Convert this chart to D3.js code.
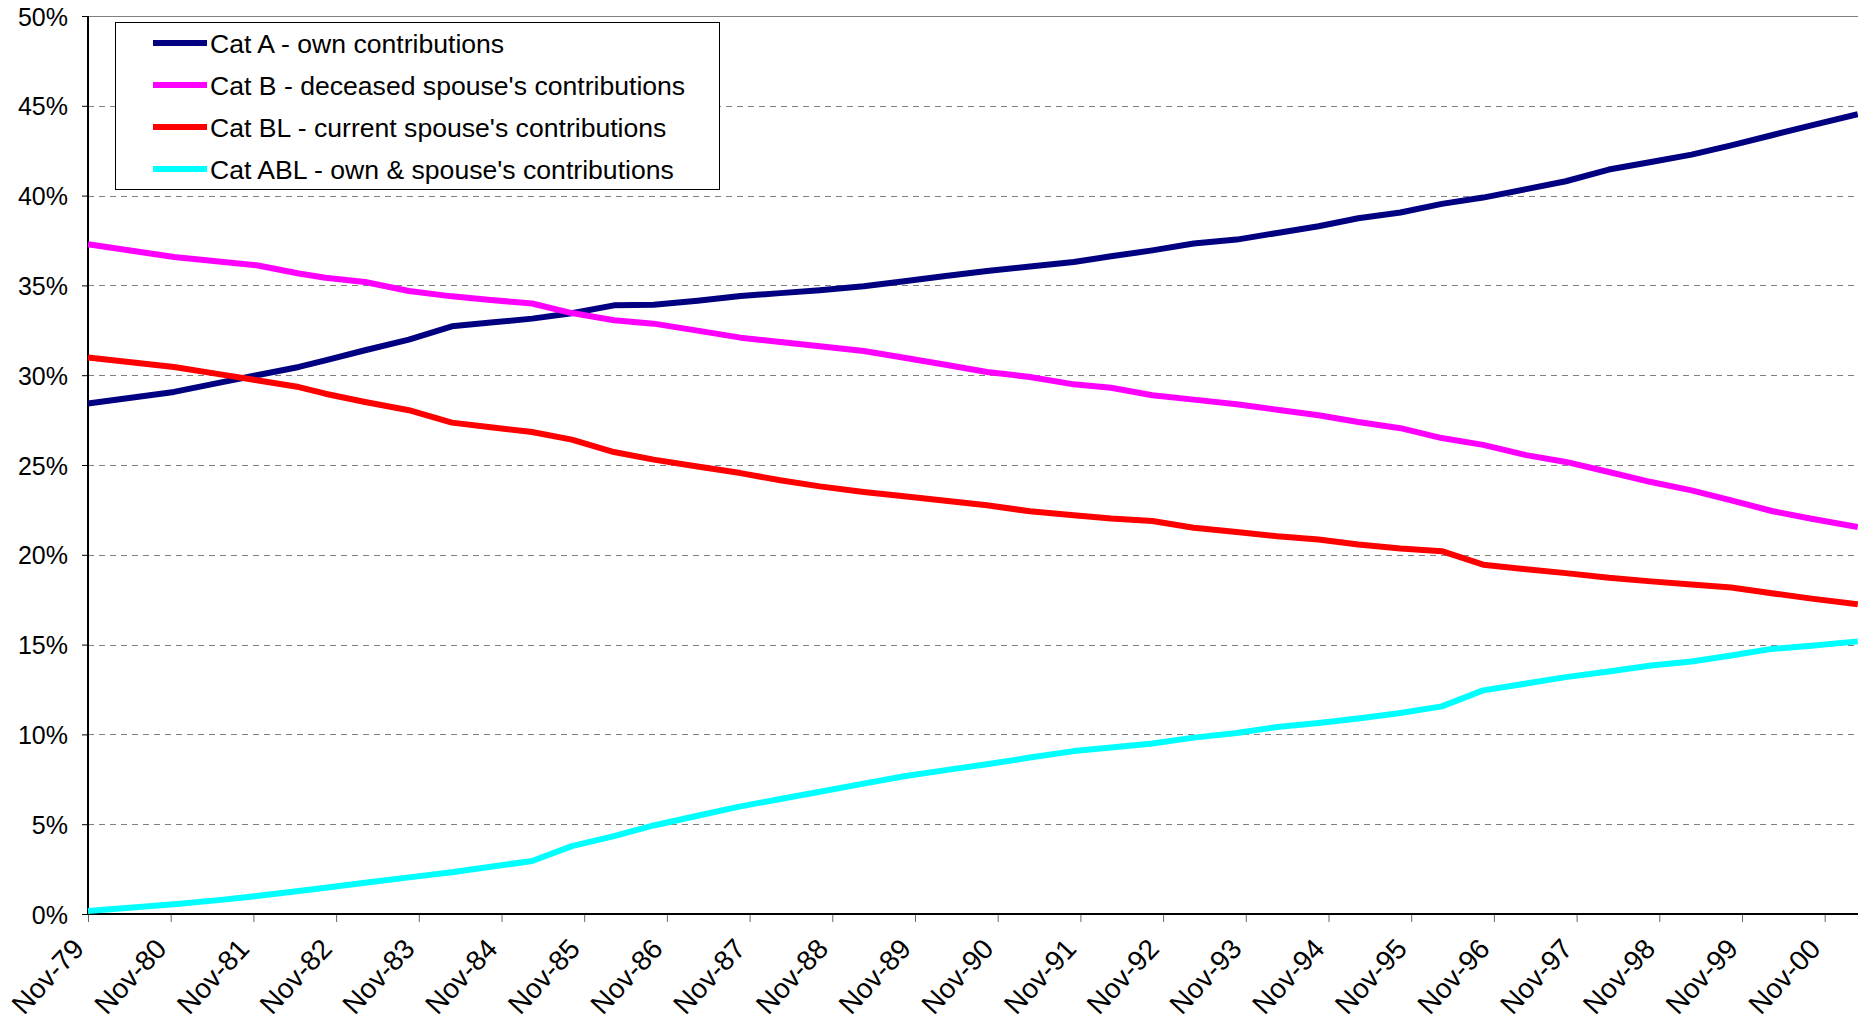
<!DOCTYPE html>
<html>
<head>
<meta charset="utf-8">
<script src="https://cdn.jsdelivr.net/npm/d3@7"></script>
<style>
    body { margin: 0; background: #fff; }
    svg { display: block; font-family: "Liberation Sans", Arial, sans-serif; }
</style>
</head>
<body>
<div id="chart"></div>
<script>

// x position of each observation, in years after Nov-79
const yearsSinceNov79 = [0, 1.04, 1.64, 2.04, 2.55, 2.87, 3.35, 3.88, 4.40, 4.87,
    5.37, 5.85, 6.36, 6.84, 7.37, 7.89, 8.37, 8.85, 9.38, 9.87,
    10.37, 10.87, 11.39, 11.92, 12.37, 12.87, 13.37, 13.89, 14.38, 14.88,
    15.36, 15.87, 16.37, 16.87, 17.39, 17.87, 18.39, 18.90, 19.39, 19.87,
    20.36, 20.84, 21.40];

// shares in percent
const catA = [28.42, 29.07, 29.63, 30.00, 30.46, 30.83, 31.39, 31.98, 32.72, 32.93,
    33.15, 33.45, 33.89, 33.92, 34.15, 34.41, 34.57, 34.73, 34.95, 35.23,
    35.52, 35.80, 36.05, 36.30, 36.62, 36.95, 37.33, 37.55, 37.92, 38.29,
    38.74, 39.06, 39.54, 39.89, 40.36, 40.80, 41.45, 41.87, 42.28, 42.80,
    43.36, 43.91, 44.53];

const catB = [37.29, 36.58, 36.30, 36.12, 35.66, 35.43, 35.19, 34.69, 34.39, 34.19,
    33.99, 33.46, 33.06, 32.87, 32.48, 32.09, 31.85, 31.61, 31.35, 30.97,
    30.58, 30.18, 29.90, 29.49, 29.30, 28.88, 28.64, 28.38, 28.08, 27.77,
    27.39, 27.05, 26.50, 26.12, 25.55, 25.17, 24.61, 24.05, 23.59, 23.03,
    22.44, 22.01, 21.55];

const catBL = [30.98, 30.46, 30.02, 29.72, 29.34, 28.97, 28.51, 28.05, 27.36, 27.10,
    26.84, 26.41, 25.72, 25.30, 24.92, 24.55, 24.15, 23.81, 23.50, 23.26,
    23.01, 22.76, 22.42, 22.20, 22.02, 21.88, 21.51, 21.27, 21.03, 20.85,
    20.57, 20.35, 20.20, 19.45, 19.20, 18.98, 18.72, 18.52, 18.35, 18.18,
    17.86, 17.56, 17.24];

const catABL = [0.17, 0.54, 0.80, 1.00, 1.28, 1.46, 1.74, 2.04, 2.32, 2.63,
    2.95, 3.78, 4.34, 4.93, 5.47, 5.99, 6.40, 6.81, 7.26, 7.67,
    8.01, 8.34, 8.71, 9.07, 9.27, 9.49, 9.82, 10.08, 10.41, 10.63,
    10.88, 11.19, 11.56, 12.45, 12.83, 13.19, 13.50, 13.84, 14.06, 14.39,
    14.76, 14.93, 15.18];

const tickLabels = ["Nov-79", "Nov-80", "Nov-81", "Nov-82", "Nov-83", "Nov-84", "Nov-85",
    "Nov-86", "Nov-87", "Nov-88", "Nov-89", "Nov-90", "Nov-91", "Nov-92", "Nov-93",
    "Nov-94", "Nov-95", "Nov-96", "Nov-97", "Nov-98", "Nov-99", "Nov-00"];

const yTicks = [0, 5, 10, 15, 20, 25, 30, 35, 40, 45, 50];

const seriesNames = ["Cat A - own contributions", "Cat B - deceased spouse's contributions",
    "Cat BL - current spouse's contributions", "Cat ABL - own & spouse's contributions"];
const seriesColors = ["#000080", "#FF00FF", "#FF0000", "#00FFFF"];
const seriesValues = [catA, catB, catBL, catABL];


const W = 1858, H = 1023;
const margin = {top: 16, right: 0, bottom: 109, left: 88};
const yearWidth = 82.7;   // px per year on the category axis
const plotH = H - margin.top - margin.bottom;
const font = "'Liberation Sans', Arial, sans-serif";

const svg = d3.select("#chart").append("svg")
    .attr("width", W)
    .attr("height", H);

svg.append("rect").attr("width", W).attr("height", H).attr("fill", "#fff");

const g = svg.append("g")
    .attr("transform", `translate(${margin.left},${margin.top})`);

// scales
const x = d3.scaleLinear()
    .domain([0, 21])
    .range([0, 21 * yearWidth]);

const y = d3.scaleLinear()
    .domain([0, 50])
    .range([plotH, 0]);

const plotRight = W - margin.left;

// gridlines (top one drawn solid)
g.selectAll(".grid")
    .data(yTicks.filter(d => d > 0))
    .enter()
    .append("line")
    .attr("class", "grid")
    .attr("x1", 0)
    .attr("x2", plotRight)
    .attr("y1", d => Math.round(y(d)) + 0.5)
    .attr("y2", d => Math.round(y(d)) + 0.5)
    .attr("stroke", "#808080")
    .attr("stroke-width", 1)
    .attr("stroke-dasharray", d => d === 50 ? null : "6,5");

// y axis
const yAxis = d3.axisLeft(y)
    .tickValues(yTicks)
    .tickSize(6)
    .tickFormat(d => d + "%");

g.append("g")
    .attr("class", "y-axis")
    .call(yAxis)
    .call(a => a.select(".domain").remove())
    .call(a => a.selectAll(".tick line").attr("stroke", "#000"))
    .call(a => a.selectAll(".tick text")
        .attr("x", -20)
        .attr("dy", "0.36em")
        .style("font-size", "25px")
        .style("font-family", font)
        .attr("fill", "#000"));

g.append("line")
    .attr("x1", 0).attr("x2", 0)
    .attr("y1", 0).attr("y2", plotH)
    .attr("stroke", "#000")
    .attr("stroke-width", 2);

// x axis
const xAxis = d3.axisBottom(x)
    .tickValues(d3.range(tickLabels.length))
    .tickSize(8)
    .tickFormat(i => tickLabels[i]);

const xg = g.append("g")
    .attr("class", "x-axis")
    .attr("transform", `translate(0,${plotH})`)
    .call(xAxis);

xg.select(".domain").remove();
xg.selectAll(".tick line").attr("stroke", "#666");
xg.selectAll(".tick text")
    .attr("x", -3)
    .attr("y", 36)
    .attr("dy", 0)
    .attr("transform", "rotate(-47,-3,36)")
    .style("text-anchor", "end")
    .style("font-size", "28px")
    .style("font-family", font)
    .attr("fill", "#000");

g.append("line")
    .attr("x1", 0).attr("x2", plotRight)
    .attr("y1", plotH).attr("y2", plotH)
    .attr("stroke", "#000")
    .attr("stroke-width", 2);

// lines
const line = d3.line()
    .x((d, i) => x(yearsSinceNov79[i]))
    .y(d => y(d));

g.selectAll(".series")
    .data(seriesValues)
    .enter()
    .append("path")
    .attr("class", "series")
    .attr("d", d => line(d))
    .attr("fill", "none")
    .attr("stroke", (d, i) => seriesColors[i])
    .attr("stroke-width", 6)
    .attr("stroke-linejoin", "round");

// legend
const legend = svg.append("g")
    .attr("class", "legend")
    .attr("transform", "translate(115,22)");

legend.append("rect")
    .attr("x", 0.5)
    .attr("y", 0.5)
    .attr("width", 604)
    .attr("height", 167)
    .attr("fill", "#fff")
    .attr("stroke", "#000")
    .attr("stroke-width", 1);

const rows = legend.selectAll(".legend-row")
    .data(seriesNames)
    .enter()
    .append("g")
    .attr("class", "legend-row")
    .attr("transform", (d, i) => `translate(0,${21 + i * 42})`);

rows.append("line")
    .attr("x1", 38)
    .attr("x2", 92)
    .attr("stroke", (d, i) => seriesColors[i])
    .attr("stroke-width", 6);

rows.append("text")
    .attr("x", 95)
    .attr("dy", "0.36em")
    .style("font-size", "26.6px")
    .attr("fill", "#000")
    .text(d => d);

</script>
</body>
</html>
